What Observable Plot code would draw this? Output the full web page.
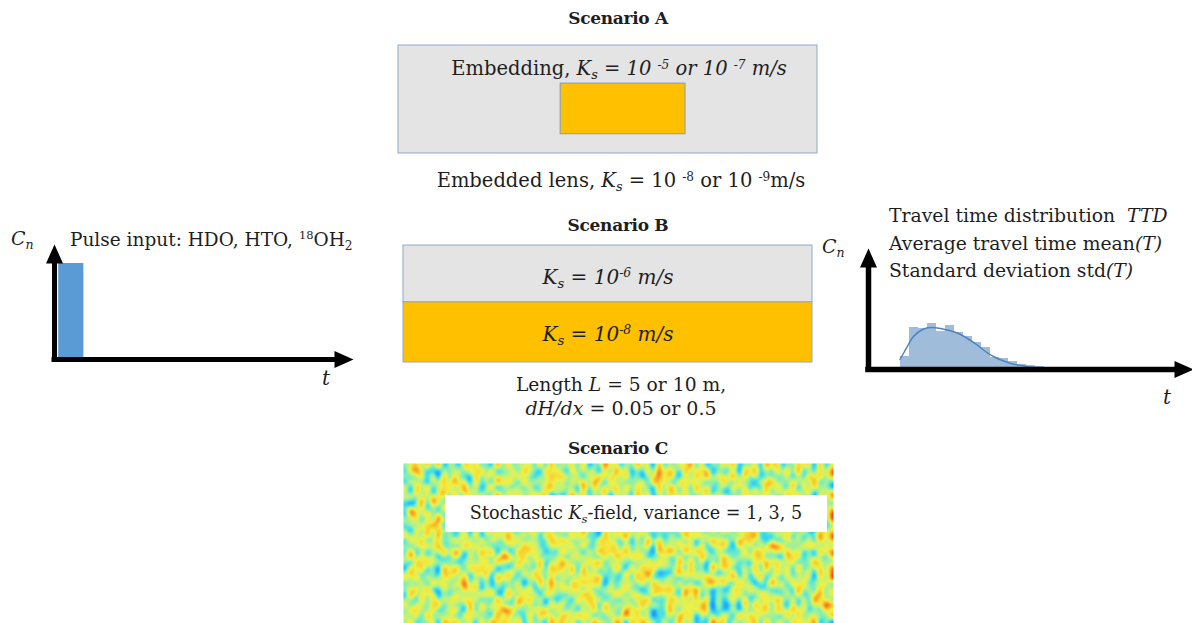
<!DOCTYPE html>
<html><head><meta charset="utf-8">
<script src="https://cdn.jsdelivr.net/npm/d3@7"></script>
<script src="https://cdn.jsdelivr.net/npm/@observablehq/plot@0.6"></script>
<style>
html,body{margin:0;padding:0;background:#fff;}
#wrap{position:relative;width:1192px;height:623px;overflow:hidden;font-family:"DejaVu Serif",serif;color:#1e1e1e;}
.lbl{position:absolute;white-space:nowrap;line-height:1;font-size:18.5px;}
.c{transform:translate(-50%,-50%);}
.l{transform:translate(0,-50%);}
.b{font-weight:bold;font-size:17px;letter-spacing:-0.3px;}
.lbl sup{font-size:0.62em;line-height:0;vertical-align:0.55em;}
.lbl sub{font-size:0.66em;line-height:0;vertical-align:-0.32em;}
.box{position:absolute;background:#fff;}
</style></head><body><div id="wrap"></div>
<script>
// ---------------- data ----------------
const scenarioTitles = ["Scenario A", "Scenario B", "Scenario C"];
const embeddingKs = ["-5", "-7"];          // m/s exponents, embedding
const lensKs = ["-8", "-9"];               // m/s exponents, embedded lens
const layerKs = ["-6", "-8"];              // scenario B layers (upper, lower)
const layerNames = ["upper", "lower"];
const lengthsL = [5, 10];                  // m
const gradients = [0.05, 0.5];             // dH/dx
const variances = [1, 3, 5];
const tracers = ["HDO", "HTO"];
const ttdTitles = ["Travel time distribution", "Average travel time mean", "Standard deviation std"];

// pulse input (left)
const pulseInput = [{t0: 0.15, t1: 1.05, c: 1}];

// travel time distribution histogram (right)
const ttdBinStart = 3.5, ttdBinWidth = 1;
const ttdCounts = [13, 42, 41, 46, 38, 44, 37, 33, 27, 22, 12, 11, 8, 5, 4, 3, 2];
const kdeT = [3.5, 4, 4.5, 5, 6, 7, 8, 9, 10, 11, 12, 13, 14, 15, 16, 17, 18, 19, 20.5];
const kdeC = [10, 18, 26, 33, 40, 42, 41, 39, 36, 31, 25, 18, 12.5, 8.5, 5.5, 4, 2.5, 1.8, 1.2];

// stochastic Ks field (class 2..9, estimated from the texture)
const fieldRows = [
"5674839265 3857462938 4657382946 5738264957 3648572936 4759382647 5836472958 3647582936",
"4786352746 6475839264 7385629475 3846572839 5726384957 6384759264 4729583647 5839264758",
"6357482937 4529384756 5846273958 6472839576 4837265948 5273849576 6948372645 4726395847",
"3846275849 5738462957 6293847565 4758396274 7364829574 3958472638 5374628594 6485739264",
"7294836574 6847359265 4738265947 5629384758 3847562938 6472938456 4857362947 5392847563",
"5483726948 3956472836 7564839274 4837265938 5629473846 7384659273 3629485746 6847392658",
"6738495627 5274836958 3847596243 6958473625 4738592647 5846372958 7493826574 3758462947",
"4259386475 7483629547 5629374856 3746582946 6385749263 4927384655 5638472938 6493827564",
"5847362958 4639285747 6374859263 5283746598 7495826374 3658492746 4827395648 5736482957",
"3965847263 6758392465 4829365748 7364859274 5827364958 6473829564 3958274637 4829573648",
"6482739564 5394827365 7356482947 4928375648 3649582736 5837462958 6472938576 7364859248",
"4738596274 8463729586 5947382645 6385947263 4759263847 7492836574 5836274958 3947582635",
"5293847655 4728395647 3648572938 5739462857 6482937465 3857462938 7294856374 6583924756",
"7564839273 5839264758 6473829564 4857362947 5938472635 6294857364 4738592637 5827364958",
"3849275648 6472938457 5837462958 7364829574 4627395846 5738264957 6395847263 4756382947",
"6375849263 4958372645 7294836574 5839264758 3746582946 4857392658 5283746598 7364859274",
"4827365948 7364859274 3958472638 6472839576 5837462958 7294856374 4639285747 5847362958",
"5938472637 5283746598 6482937465 3857462938 7495826374 4827395648 6374859263 3958274637",
"6294857364 3746582946 4857392658 7364859274 5627394856 3958472638 5836274958 6482739564",
"3758462947 6385749263 5746382958 4928375648 6293847565 5738462957 7356482947 4829365748",
"5846372958 4738592647 7283946575 5829473646 3847596243 6958473625 4928375648 5736482957",
"7492836574 5836472958 3647582936 6384759264 4729583647 5273849576 6847359265 3846572839",
"4638295746 6948372645 5726384957 3948576264 6573829465 4837265948 5384726395 7294836574",
"6583924756 3958274637 4759263847 7492836574 5836274958 6385947263 3947582635 5629473846",
"3947582635 7364859248 6473829564 4829573648 7385629475 5394827365 6482739564 4738265947",
"5629384758 4857362947 3958472635 6294857364 4738592637 7564839273 5839264758 6473829564",
"7384659273 6392847563 5847362958 3746582946 6472938457 4758396274 3629485746 5283746598",
"4857392658 5283746598 7364859274 5627394856 3958472638 6374859263 4827365948 7495826374",
"6482937465 3857462938 4639285747 7495826374 5938472637 3958274637 6294857364 4928375648",
"5736482957 6472839576 5837462958 4827395648 7294856374 5847362958 3746582946 6385749263"
];

// ---------------- styles / layout ----------------
const palette = ["#1838d8","#2070f0","#28a8f4","#38d8f0","#78eec0","#bef27a","#f0f044","#f8d030","#f59a26","#e04a1c"];
const grayFill = "#e4e4e4", lensFill = "#ffc000", boxStroke = "#8ea9cb";
const sceneA = {length: 10, depth: 2.58, lens: {x1: 3.87, x2: 6.85, y1: 0.91, y2: 2.12}};
const sceneB = {length: 10, depth: 2.86, split: 1.39};

const wrap = document.getElementById("wrap");
function addPlot(plot, left, top) {
  plot.style.position = "absolute"; plot.style.left = left + "px"; plot.style.top = top + "px";
  plot.style.background = "transparent"; plot.style.overflow = "visible"; plot.style.maxWidth = "none";
  wrap.appendChild(plot);
}
function addLabel(html, x, y, cls, extra) {
  const d = document.createElement("div");
  d.className = "lbl " + cls; d.innerHTML = html;
  d.style.left = x + "px"; d.style.top = y + "px";
  if (extra) Object.assign(d.style, extra);
  wrap.appendChild(d); return d;
}
const arrowUp = {draw(ctx) { ctx.moveTo(0, -19); ctx.lineTo(8.5, 0); ctx.lineTo(-8.5, 0); ctx.closePath(); }};
const arrowRight = {draw(ctx) { ctx.moveTo(19, 0); ctx.lineTo(0, 8.5); ctx.lineTo(0, -8.5); ctx.closePath(); }};
function axesMarks(xmax, ymax, sw) {
  return [
    Plot.ruleY([0], {x1: 0, x2: xmax, stroke: "black", strokeWidth: sw, strokeLinecap: "square"}),
    Plot.ruleX([0], {y1: 0, y2: ymax, stroke: "black", strokeWidth: sw, strokeLinecap: "square"}),
    Plot.dot([{x: xmax, y: 0}], {x: "x", y: "y", symbol: arrowRight, fill: "black"}),
    Plot.dot([{x: 0, y: ymax}], {x: "x", y: "y", symbol: arrowUp, fill: "black"})
  ];
}

// ---------------- left: pulse input ----------------
const p1 = Plot.plot({
  width: 372, height: 140, marginLeft: 54, marginRight: 38, marginTop: 33, marginBottom: 11,
  x: {domain: [0, 10], axis: null}, y: {domain: [0, 1], axis: null},
  marks: [
    Plot.rect(pulseInput, {x1: "t0", x2: "t1", y1: 0, y2: "c", fill: "#5b9bd5", inset: 0}),
    ...axesMarks(10, 1, 5)
  ]
});
addPlot(p1, 0, 230);

// ---------------- right: travel time distribution ----------------
const bins = ttdCounts.map((c, i) => ({t0: ttdBinStart + i * ttdBinWidth, t1: ttdBinStart + (i + 1) * ttdBinWidth, c}));
const kde = kdeT.map((t, i) => ({t, c: kdeC[i]}));
const p2 = Plot.plot({
  width: 372, height: 150, marginLeft: 48, marginRight: 18, marginTop: 37, marginBottom: 11,
  x: {domain: [0, 34], axis: null}, y: {domain: [0, 102], axis: null},
  marks: [
    Plot.rect(bins, {x1: "t0", x2: "t1", y1: 0, y2: "c", fill: "#9fbddb", inset: 0, shapeRendering: "crispEdges"}),
    Plot.line(kde, {x: "t", y: "c", stroke: "#4f83ba", strokeWidth: 1.5, curve: "natural"}),
    ...axesMarks(34, 102, 5.5)
  ]
});
addPlot(p2, 820, 230);

// ---------------- scenario A ----------------
const pA = Plot.plot({
  width: 421, height: 110, margin: 1,
  x: {domain: [0, sceneA.length], axis: null}, y: {domain: [0, sceneA.depth], reverse: true, axis: null},
  color: {type: "identity"},
  marks: [
    Plot.rect([sceneA], {x1: 0, x2: "length", y1: 0, y2: "depth", fill: grayFill, stroke: boxStroke}),
    Plot.rect([sceneA.lens], {x1: "x1", x2: "x2", y1: "y1", y2: "y2", fill: lensFill, stroke: "#7f9cc0"})
  ]
});
addPlot(pA, 397, 44);

// ---------------- scenario B ----------------
const layers = layerNames.map((name, i) => ({name, ks: layerKs[i],
  top: i === 0 ? 0 : sceneB.split, bottom: i === 0 ? sceneB.split : sceneB.depth,
  fill: i === 0 ? grayFill : lensFill}));
const pB = Plot.plot({
  width: 411, height: 119, margin: 1,
  x: {domain: [0, sceneB.length], axis: null}, y: {domain: [0, sceneB.depth], reverse: true, axis: null},
  color: {type: "identity"},
  marks: [Plot.rect(layers, {x1: 0, x2: sceneB.length, y1: "top", y2: "bottom", fill: "fill", stroke: boxStroke})]
});
addPlot(pB, 402, 244);

// ---------------- scenario C ----------------
const rowsClean = fieldRows.map(r => r.replace(/\s/g, ""));
const nCols = Math.min(...rowsClean.map(r => r.length));
const nRows = rowsClean.length;
const fieldPoints = rowsClean.flatMap((r, j) => Array.from(r.slice(0, nCols), (ch, i) => ({x: i + 0.5, y: j + 0.5, v: +ch})));
// display interpolation: nearest cell value, then smoothed in value space (before the color scale)
function smoothField(index, width, height, X, Y, V) {
  const out = new Float64Array(width * height);
  for (let py = 0; py < height; py++) {
    const j = Math.min(nRows - 1, Math.floor((py + 0.5) * nRows / height));
    for (let px = 0; px < width; px++) {
      const i = Math.min(nCols - 1, Math.floor((px + 0.5) * nCols / width));
      out[py * width + px] = V[j * nCols + i];
    }
  }
  if (d3.blur2) d3.blur2({data: out, width, height}, 2.5);
  return Array.from(out);
}
const pC = Plot.plot({
  width: 430, height: 160, margin: 0,
  x: {domain: [0, nCols], axis: null}, y: {domain: [0, nRows], reverse: true, axis: null},
  color: {type: "linear", domain: [2.9, 7.4], clamp: true, interpolate: d3.piecewise(d3.interpolateRgb, palette)},
  marks: [Plot.raster(fieldPoints, {x: "x", y: "y", fill: "v", interpolate: smoothField, pixelSize: 1})]
});
addPlot(pC, 403, 463);

// ---------------- texts ----------------
const Ks = "K<sub>s</sub>";
addLabel(scenarioTitles[0], 618, 18, "c b");
addLabel(`Embedding, <i>${Ks} = 10 <sup>${embeddingKs[0]}</sup> or 10 <sup>${embeddingKs[1]}</sup> m/s</i>`, 619, 69, "c", {fontSize: "19.5px"});
addLabel(`Embedded lens, <i>${Ks}</i> = 10 <sup>${lensKs[0]}</sup> or 10 <sup>${lensKs[1]}</sup>m/s`, 621, 181, "c", {fontSize: "19.5px"});
addLabel(scenarioTitles[1], 618, 225, "c b");
addLabel(`<i>${Ks} = 10<sup>${layers[0].ks}</sup> m/s</i>`, 608, 277, "c", {fontSize: "20px"});
addLabel(`<i>${Ks} = 10<sup>${layers[1].ks}</sup> m/s</i>`, 608, 334, "c", {fontSize: "20px"});
addLabel(`Length <i>L</i> = ${lengthsL[0]} or ${lengthsL[1]} m,`, 621, 385, "c", {fontSize: "18.7px"});
addLabel(`<i>dH/dx</i> = ${gradients[0]} or ${gradients[1]}`, 621, 408, "c", {fontSize: "19px"});
addLabel(scenarioTitles[2], 618, 448, "c b");
const box = document.createElement("div");
box.className = "box";
Object.assign(box.style, {left: "445px", top: "495px", width: "382px", height: "37px"});
wrap.appendChild(box);
addLabel(`Stochastic <i>${Ks}</i>-field, variance = ${variances.join(", ")}`, 636, 514, "c", {fontSize: "17.6px"});

addLabel(`<i>C<sub>n</sub></i>`, 11, 238, "l", {fontSize: "19px"});
addLabel(`Pulse input: ${tracers.join(", ")}, <sup>18</sup>OH<sub>2</sub>`, 70, 240, "l");
addLabel(`<i>t</i>`, 326, 378, "c", {fontSize: "20px"});

addLabel(`<i>C<sub>n</sub></i>`, 822, 246, "l", {fontSize: "19px"});
addLabel(`${ttdTitles[0]}&nbsp; <i>TTD</i>`, 889, 216, "l", {fontSize: "18.8px"});
addLabel(`${ttdTitles[1]}<i>(T)</i>`, 889, 244, "l", {fontSize: "18.8px"});
addLabel(`${ttdTitles[2]}<i>(T)</i>`, 889, 271, "l", {fontSize: "18.8px"});
addLabel(`<i>t</i>`, 1167, 397, "c", {fontSize: "20px"});
</script></body></html>
